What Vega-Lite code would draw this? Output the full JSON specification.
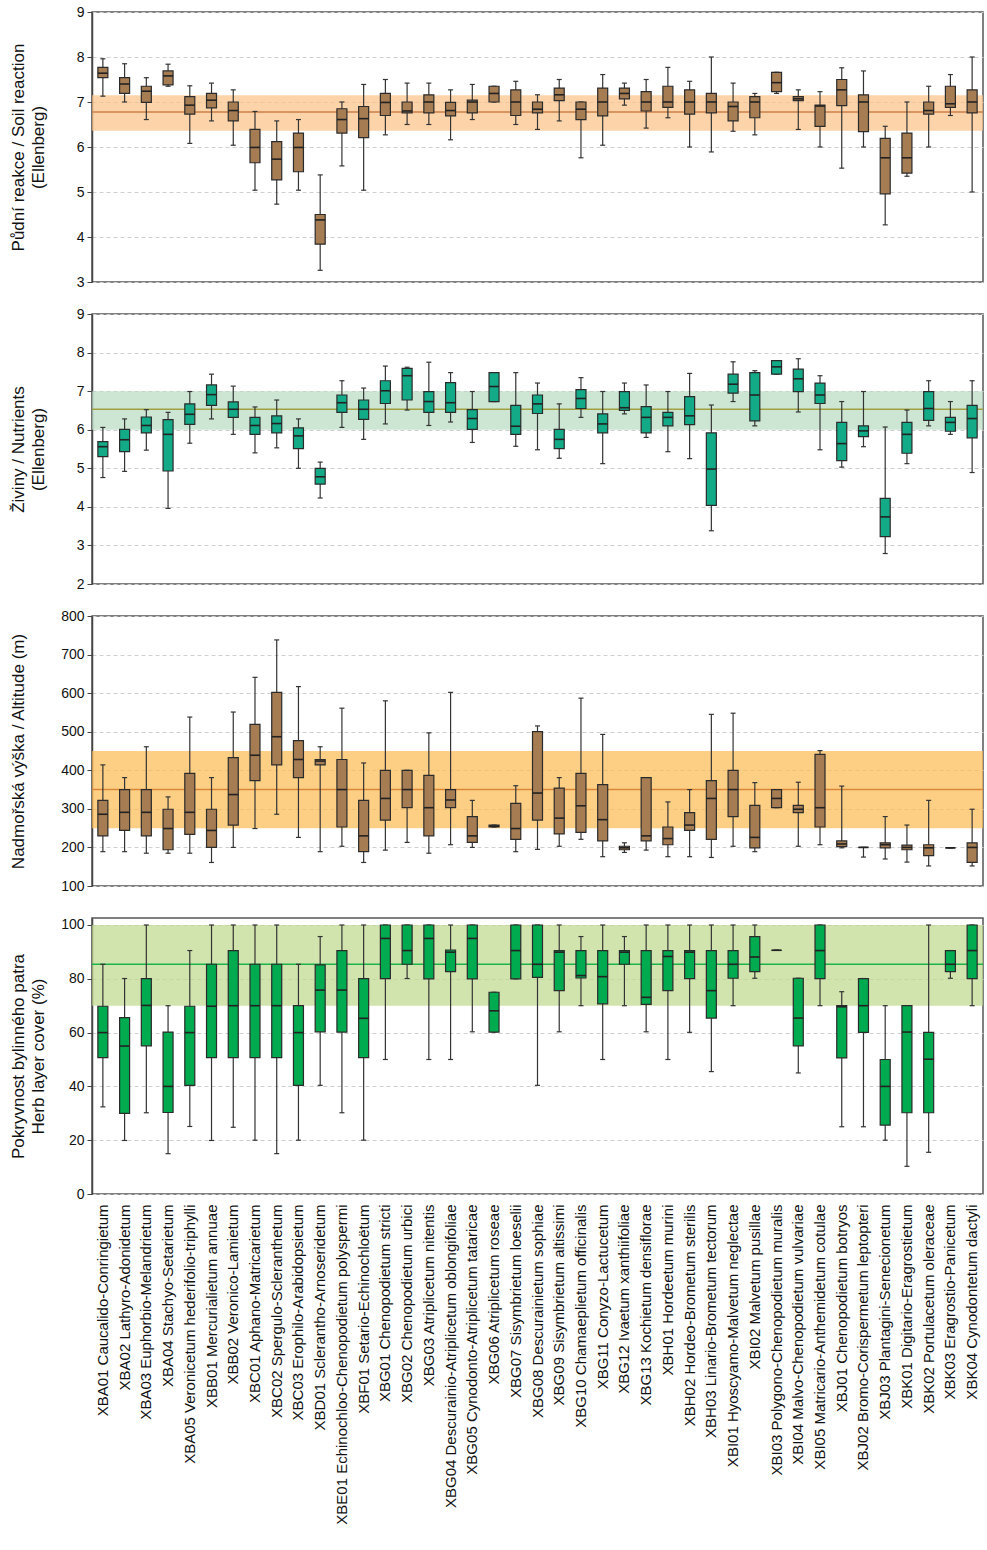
{
"$schema": "https://vega.github.io/schema/vega-lite/v6.json",
"padding": {"left": 8, "top": 4, "right": 4, "bottom": 2},
"background": "white",
"datasets": {
"p1": [
{"c":"XBA01 Caucalido-Conringietum","lo":7.13,"q1":7.54,"md":7.64,"q3":7.77,"hi":7.96},
{"c":"XBA02 Lathyro-Adonidetum","lo":7.00,"q1":7.19,"md":7.40,"q3":7.54,"hi":7.85},
{"c":"XBA03 Euphorbio-Melandrietum","lo":6.61,"q1":6.99,"md":7.24,"q3":7.35,"hi":7.54},
{"c":"XBA04 Stachyo-Setarietum","lo":7.35,"q1":7.38,"md":7.58,"q3":7.69,"hi":7.84},
{"c":"XBA05 Veronicetum hederifolio-triphylli","lo":6.08,"q1":6.73,"md":6.93,"q3":7.12,"hi":7.36},
{"c":"XBB01 Mercurialietum annuae","lo":6.58,"q1":6.87,"md":7.04,"q3":7.19,"hi":7.42},
{"c":"XBB02 Veronico-Lamietum","lo":6.04,"q1":6.58,"md":6.81,"q3":7.00,"hi":7.27},
{"c":"XBC01 Aphano-Matricarietum","lo":5.04,"q1":5.65,"md":5.99,"q3":6.39,"hi":6.79},
{"c":"XBC02 Spergulo-Scleranthetum","lo":4.73,"q1":5.27,"md":5.73,"q3":6.12,"hi":6.58},
{"c":"XBC03 Erophilo-Arabidopsietum","lo":5.04,"q1":5.45,"md":5.99,"q3":6.31,"hi":6.61},
{"c":"XBD01 Sclerantho-Arnoseridetum","lo":3.26,"q1":3.84,"md":4.38,"q3":4.50,"hi":5.38},
{"c":"XBE01 Echinochloo-Chenopodietum polyspermi","lo":5.58,"q1":6.31,"md":6.61,"q3":6.85,"hi":7.00},
{"c":"XBF01 Setario-Echinochloëtum","lo":5.04,"q1":6.21,"md":6.63,"q3":6.90,"hi":7.39},
{"c":"XBG01 Chenopodietum stricti","lo":6.27,"q1":6.70,"md":6.99,"q3":7.19,"hi":7.50},
{"c":"XBG02 Chenopodietum urbici","lo":6.50,"q1":6.76,"md":6.80,"q3":7.00,"hi":7.42},
{"c":"XBG03 Atriplicetum nitentis","lo":6.50,"q1":6.76,"md":7.00,"q3":7.16,"hi":7.42},
{"c":"XBG04 Descurainio-Atriplicetum oblongifoliae","lo":6.16,"q1":6.69,"md":6.81,"q3":6.99,"hi":7.27},
{"c":"XBG05 Cynodonto-Atriplicetum tataricae","lo":6.61,"q1":6.76,"md":7.00,"q3":7.04,"hi":7.39},
{"c":"XBG06 Atriplicetum roseae","lo":7.00,"q1":7.00,"md":7.19,"q3":7.35,"hi":7.35},
{"c":"XBG07 Sisymbrietum loeselii","lo":6.50,"q1":6.70,"md":7.00,"q3":7.27,"hi":7.46},
{"c":"XBG08 Descurainietum sophiae","lo":6.39,"q1":6.76,"md":6.84,"q3":7.00,"hi":7.16},
{"c":"XBG09 Sisymbrietum altissimi","lo":6.58,"q1":7.03,"md":7.16,"q3":7.31,"hi":7.50},
{"c":"XBG10 Chamaeplietum officinalis","lo":5.76,"q1":6.61,"md":6.84,"q3":7.00,"hi":7.00},
{"c":"XBG11 Conyzo-Lactucetum","lo":6.04,"q1":6.69,"md":7.00,"q3":7.31,"hi":7.61},
{"c":"XBG12 Ivaetum xanthiifoliae","lo":6.93,"q1":7.07,"md":7.19,"q3":7.31,"hi":7.42},
{"c":"XBG13 Kochietum densiflorae","lo":6.42,"q1":6.80,"md":7.00,"q3":7.23,"hi":7.50},
{"c":"XBH01 Hordeetum murini","lo":6.65,"q1":6.88,"md":7.00,"q3":7.35,"hi":7.77},
{"c":"XBH02 Hordeo-Brometum sterilis","lo":6.00,"q1":6.73,"md":7.00,"q3":7.27,"hi":7.46},
{"c":"XBH03 Linario-Brometum tectorum","lo":5.89,"q1":6.76,"md":7.00,"q3":7.19,"hi":8.00},
{"c":"XBI01 Hyoscyamo-Malvetum neglectae","lo":6.35,"q1":6.58,"md":6.90,"q3":7.00,"hi":7.42},
{"c":"XBI02 Malvetum pusillae","lo":6.27,"q1":6.65,"md":7.00,"q3":7.12,"hi":7.19},
{"c":"XBI03 Polygono-Chenopodietum muralis","lo":7.19,"q1":7.23,"md":7.43,"q3":7.66,"hi":7.66},
{"c":"XBI04 Malvo-Chenopodietum vulvariae","lo":6.39,"q1":7.03,"md":7.07,"q3":7.12,"hi":7.27},
{"c":"XBI05 Matricario-Anthemidetum cotulae","lo":6.00,"q1":6.46,"md":6.91,"q3":6.93,"hi":7.23},
{"c":"XBJ01 Chenopodietum botryos","lo":5.53,"q1":6.92,"md":7.27,"q3":7.50,"hi":7.76},
{"c":"XBJ02 Bromo-Corispermetum leptopteri","lo":6.00,"q1":6.34,"md":7.00,"q3":7.16,"hi":7.69},
{"c":"XBJ03 Plantagini-Senecionetum","lo":4.27,"q1":4.96,"md":5.76,"q3":6.19,"hi":6.46},
{"c":"XBK01 Digitario-Eragrostietum","lo":5.35,"q1":5.42,"md":5.76,"q3":6.31,"hi":7.00},
{"c":"XBK02 Portulacetum oleraceae","lo":6.00,"q1":6.73,"md":6.81,"q3":7.00,"hi":7.35},
{"c":"XBK03 Eragrostio-Panicetum","lo":6.70,"q1":6.88,"md":6.96,"q3":7.35,"hi":7.61},
{"c":"XBK04 Cynodontetum dactyli","lo":5.00,"q1":6.76,"md":7.00,"q3":7.27,"hi":8.00}
],
"p2": [
{"c":"XBA01 Caucalido-Conringietum","lo":4.76,"q1":5.30,"md":5.56,"q3":5.69,"hi":6.06},
{"c":"XBA02 Lathyro-Adonidetum","lo":4.92,"q1":5.43,"md":5.74,"q3":6.01,"hi":6.28},
{"c":"XBA03 Euphorbio-Melandrietum","lo":5.47,"q1":5.92,"md":6.11,"q3":6.33,"hi":6.52},
{"c":"XBA04 Stachyo-Setarietum","lo":3.96,"q1":4.93,"md":5.88,"q3":6.26,"hi":6.45},
{"c":"XBA05 Veronicetum hederifolio-triphylli","lo":5.65,"q1":6.14,"md":6.40,"q3":6.67,"hi":6.99},
{"c":"XBB01 Mercurialietum annuae","lo":6.28,"q1":6.63,"md":6.91,"q3":7.16,"hi":7.44},
{"c":"XBB02 Veronico-Lamietum","lo":5.88,"q1":6.32,"md":6.53,"q3":6.72,"hi":7.13},
{"c":"XBC01 Aphano-Matricarietum","lo":5.40,"q1":5.88,"md":6.11,"q3":6.32,"hi":6.59},
{"c":"XBC02 Spergulo-Scleranthetum","lo":5.53,"q1":5.92,"md":6.16,"q3":6.36,"hi":6.77},
{"c":"XBC03 Erophilo-Arabidopsietum","lo":5.00,"q1":5.51,"md":5.84,"q3":6.05,"hi":6.28},
{"c":"XBD01 Sclerantho-Arnoseridetum","lo":4.23,"q1":4.59,"md":4.78,"q3":5.00,"hi":5.16},
{"c":"XBE01 Echinochloo-Chenopodietum polyspermi","lo":6.06,"q1":6.45,"md":6.70,"q3":6.90,"hi":7.27},
{"c":"XBF01 Setario-Echinochloëtum","lo":5.75,"q1":6.27,"md":6.53,"q3":6.77,"hi":7.08},
{"c":"XBG01 Chenopodietum stricti","lo":6.15,"q1":6.68,"md":7.01,"q3":7.27,"hi":7.65},
{"c":"XBG02 Chenopodietum urbici","lo":6.51,"q1":6.77,"md":7.40,"q3":7.59,"hi":7.62},
{"c":"XBG03 Atriplicetum nitentis","lo":6.11,"q1":6.45,"md":6.73,"q3":6.99,"hi":7.75},
{"c":"XBG04 Descurainio-Atriplicetum oblongifoliae","lo":6.20,"q1":6.45,"md":6.70,"q3":7.22,"hi":7.48},
{"c":"XBG05 Cynodonto-Atriplicetum tataricae","lo":5.67,"q1":6.01,"md":6.29,"q3":6.52,"hi":6.99},
{"c":"XBG06 Atriplicetum roseae","lo":6.73,"q1":6.73,"md":7.12,"q3":7.48,"hi":7.48},
{"c":"XBG07 Sisymbrietum loeselii","lo":5.57,"q1":5.88,"md":6.09,"q3":6.63,"hi":7.48},
{"c":"XBG08 Descurainietum sophiae","lo":5.48,"q1":6.42,"md":6.67,"q3":6.90,"hi":7.21},
{"c":"XBG09 Sisymbrietum altissimi","lo":5.26,"q1":5.51,"md":5.75,"q3":6.01,"hi":6.67},
{"c":"XBG10 Chamaeplietum officinalis","lo":6.32,"q1":6.55,"md":6.81,"q3":7.04,"hi":7.35},
{"c":"XBG11 Conyzo-Lactucetum","lo":5.12,"q1":5.92,"md":6.15,"q3":6.41,"hi":6.99},
{"c":"XBG12 Ivaetum xanthiifoliae","lo":6.41,"q1":6.50,"md":6.57,"q3":6.99,"hi":7.21},
{"c":"XBG13 Kochietum densiflorae","lo":5.80,"q1":5.92,"md":6.32,"q3":6.60,"hi":7.16},
{"c":"XBH01 Hordeetum murini","lo":5.43,"q1":6.10,"md":6.32,"q3":6.45,"hi":6.99},
{"c":"XBH02 Hordeo-Brometum sterilis","lo":5.25,"q1":6.13,"md":6.36,"q3":6.86,"hi":7.46},
{"c":"XBH03 Linario-Brometum tectorum","lo":3.38,"q1":4.04,"md":4.98,"q3":5.92,"hi":6.64},
{"c":"XBI01 Hyoscyamo-Malvetum neglectae","lo":6.73,"q1":6.95,"md":7.18,"q3":7.44,"hi":7.76},
{"c":"XBI02 Malvetum pusillae","lo":6.10,"q1":6.23,"md":6.90,"q3":7.48,"hi":7.53},
{"c":"XBI03 Polygono-Chenopodietum muralis","lo":7.44,"q1":7.44,"md":7.63,"q3":7.79,"hi":7.79},
{"c":"XBI04 Malvo-Chenopodietum vulvariae","lo":6.46,"q1":6.99,"md":7.32,"q3":7.57,"hi":7.84},
{"c":"XBI05 Matricario-Anthemidetum cotulae","lo":5.48,"q1":6.68,"md":6.90,"q3":7.21,"hi":7.40},
{"c":"XBJ01 Chenopodietum botryos","lo":5.03,"q1":5.20,"md":5.64,"q3":6.19,"hi":6.73},
{"c":"XBJ02 Bromo-Corispermetum leptopteri","lo":5.56,"q1":5.82,"md":5.97,"q3":6.10,"hi":6.99},
{"c":"XBJ03 Plantagini-Senecionetum","lo":2.79,"q1":3.23,"md":3.74,"q3":4.22,"hi":6.07},
{"c":"XBK01 Digitario-Eragrostietum","lo":5.12,"q1":5.39,"md":5.88,"q3":6.19,"hi":6.51},
{"c":"XBK02 Portulacetum oleraceae","lo":6.10,"q1":6.24,"md":6.55,"q3":6.99,"hi":7.27},
{"c":"XBK03 Eragrostio-Panicetum","lo":5.88,"q1":5.96,"md":6.19,"q3":6.32,"hi":6.73},
{"c":"XBK04 Cynodontetum dactyli","lo":4.89,"q1":5.79,"md":6.29,"q3":6.63,"hi":7.27}
],
"p3": [
{"c":"XBA01 Caucalido-Conringietum","lo":189,"q1":230,"md":286,"q3":322,"hi":414},
{"c":"XBA02 Lathyro-Adonidetum","lo":189,"q1":244,"md":291,"q3":350,"hi":381},
{"c":"XBA03 Euphorbio-Melandrietum","lo":185,"q1":230,"md":291,"q3":350,"hi":461},
{"c":"XBA04 Stachyo-Setarietum","lo":185,"q1":194,"md":249,"q3":299,"hi":331},
{"c":"XBA05 Veronicetum hederifolio-triphylli","lo":185,"q1":234,"md":291,"q3":392,"hi":538},
{"c":"XBB01 Mercurialietum annuae","lo":161,"q1":200,"md":244,"q3":299,"hi":381},
{"c":"XBB02 Veronico-Lamietum","lo":200,"q1":258,"md":337,"q3":433,"hi":551},
{"c":"XBC01 Aphano-Matricarietum","lo":249,"q1":373,"md":439,"q3":519,"hi":641},
{"c":"XBC02 Spergulo-Scleranthetum","lo":286,"q1":414,"md":487,"q3":602,"hi":738},
{"c":"XBC03 Erophilo-Arabidopsietum","lo":226,"q1":381,"md":428,"q3":477,"hi":617},
{"c":"XBD01 Sclerantho-Arnoseridetum","lo":189,"q1":414,"md":424,"q3":428,"hi":461},
{"c":"XBE01 Echinochloo-Chenopodietum polyspermi","lo":203,"q1":253,"md":350,"q3":428,"hi":561},
{"c":"XBF01 Setario-Echinochloëtum","lo":161,"q1":189,"md":230,"q3":322,"hi":419},
{"c":"XBG01 Chenopodietum stricti","lo":193,"q1":271,"md":327,"q3":400,"hi":580},
{"c":"XBG02 Chenopodietum urbici","lo":213,"q1":303,"md":350,"q3":400,"hi":400},
{"c":"XBG03 Atriplicetum nitentis","lo":185,"q1":230,"md":303,"q3":387,"hi":497},
{"c":"XBG04 Descurainio-Atriplicetum oblongifoliae","lo":207,"q1":303,"md":323,"q3":350,"hi":602},
{"c":"XBG05 Cynodonto-Atriplicetum tataricae","lo":200,"q1":213,"md":230,"q3":280,"hi":322},
{"c":"XBG06 Atriplicetum roseae","lo":253,"q1":253,"md":255,"q3":258,"hi":258},
{"c":"XBG07 Sisymbrietum loeselii","lo":189,"q1":221,"md":249,"q3":314,"hi":360},
{"c":"XBG08 Descurainietum sophiae","lo":195,"q1":271,"md":341,"q3":500,"hi":515},
{"c":"XBG09 Sisymbrietum altissimi","lo":203,"q1":235,"md":276,"q3":354,"hi":381},
{"c":"XBG10 Chamaeplietum officinalis","lo":221,"q1":239,"md":308,"q3":392,"hi":587},
{"c":"XBG11 Conyzo-Lactucetum","lo":176,"q1":217,"md":272,"q3":363,"hi":493},
{"c":"XBG12 Ivaetum xanthiifoliae","lo":187,"q1":194,"md":199,"q3":203,"hi":212},
{"c":"XBG13 Kochietum densiflorae","lo":193,"q1":217,"md":230,"q3":381,"hi":381},
{"c":"XBH01 Hordeetum murini","lo":176,"q1":207,"md":223,"q3":253,"hi":318},
{"c":"XBH02 Hordeo-Brometum sterilis","lo":176,"q1":244,"md":258,"q3":290,"hi":350},
{"c":"XBH03 Linario-Brometum tectorum","lo":174,"q1":221,"md":327,"q3":373,"hi":545},
{"c":"XBI01 Hyoscyamo-Malvetum neglectae","lo":203,"q1":280,"md":350,"q3":400,"hi":548},
{"c":"XBI02 Malvetum pusillae","lo":189,"q1":199,"md":226,"q3":309,"hi":368},
{"c":"XBI03 Polygono-Chenopodietum muralis","lo":303,"q1":303,"md":327,"q3":350,"hi":350},
{"c":"XBI04 Malvo-Chenopodietum vulvariae","lo":203,"q1":290,"md":299,"q3":309,"hi":369},
{"c":"XBI05 Matricario-Anthemidetum cotulae","lo":207,"q1":253,"md":303,"q3":441,"hi":451},
{"c":"XBJ01 Chenopodietum botryos","lo":199,"q1":202,"md":209,"q3":217,"hi":359},
{"c":"XBJ02 Bromo-Corispermetum leptopteri","lo":175,"q1":200,"md":200,"q3":200,"hi":200},
{"c":"XBJ03 Plantagini-Senecionetum","lo":170,"q1":199,"md":207,"q3":212,"hi":280},
{"c":"XBK01 Digitario-Eragrostietum","lo":162,"q1":194,"md":200,"q3":206,"hi":258},
{"c":"XBK02 Portulacetum oleraceae","lo":152,"q1":179,"md":199,"q3":207,"hi":322},
{"c":"XBK03 Eragrostio-Panicetum","lo":199,"q1":199,"md":199,"q3":199,"hi":199},
{"c":"XBK04 Cynodontetum dactyli","lo":152,"q1":161,"md":200,"q3":212,"hi":299}
],
"p4": [
{"c":"XBA01 Caucalido-Conringietum","lo":32.4,"q1":50.7,"md":60,"q3":69.8,"hi":85.4},
{"c":"XBA02 Lathyro-Adonidetum","lo":19.9,"q1":30,"md":55,"q3":65.6,"hi":80.1},
{"c":"XBA03 Euphorbio-Melandrietum","lo":30.2,"q1":55.1,"md":70.1,"q3":80.1,"hi":100},
{"c":"XBA04 Stachyo-Setarietum","lo":15,"q1":30.3,"md":40,"q3":60.2,"hi":70},
{"c":"XBA05 Veronicetum hederifolio-triphylli","lo":25.1,"q1":40.4,"md":60,"q3":69.8,"hi":90.5},
{"c":"XBB01 Mercurialietum annuae","lo":19.9,"q1":50.7,"md":69.8,"q3":85.4,"hi":100},
{"c":"XBB02 Veronico-Lamietum","lo":24.8,"q1":50.7,"md":70,"q3":90.5,"hi":100},
{"c":"XBC01 Aphano-Matricarietum","lo":20,"q1":50.7,"md":70,"q3":85.4,"hi":100},
{"c":"XBC02 Spergulo-Scleranthetum","lo":15,"q1":50.7,"md":70,"q3":85.4,"hi":100},
{"c":"XBC03 Erophilo-Arabidopsietum","lo":20,"q1":40.4,"md":60,"q3":70,"hi":85.4},
{"c":"XBD01 Sclerantho-Arnoseridetum","lo":40.4,"q1":60.3,"md":75.8,"q3":85.2,"hi":95.7},
{"c":"XBE01 Echinochloo-Chenopodietum polyspermi","lo":30.2,"q1":60.2,"md":75.8,"q3":90.5,"hi":100},
{"c":"XBF01 Setario-Echinochloëtum","lo":20,"q1":50.7,"md":65.3,"q3":80.1,"hi":100},
{"c":"XBG01 Chenopodietum stricti","lo":50,"q1":80.1,"md":95,"q3":100,"hi":100},
{"c":"XBG02 Chenopodietum urbici","lo":80.1,"q1":85.4,"md":90.5,"q3":100,"hi":100},
{"c":"XBG03 Atriplicetum nitentis","lo":50,"q1":80,"md":95,"q3":100,"hi":100},
{"c":"XBG04 Descurainio-Atriplicetum oblongifoliae","lo":50,"q1":82.7,"md":89.9,"q3":90.7,"hi":100},
{"c":"XBG05 Cynodonto-Atriplicetum tataricae","lo":60.3,"q1":80,"md":95,"q3":100,"hi":100},
{"c":"XBG06 Atriplicetum roseae","lo":60.2,"q1":60.2,"md":68.1,"q3":75,"hi":75},
{"c":"XBG07 Sisymbrietum loeselii","lo":80,"q1":80,"md":90.5,"q3":100,"hi":100},
{"c":"XBG08 Descurainietum sophiae","lo":40.4,"q1":80.5,"md":85.4,"q3":100,"hi":100},
{"c":"XBG09 Sisymbrietum altissimi","lo":60.3,"q1":75.6,"md":89.9,"q3":90.5,"hi":100},
{"c":"XBG10 Chamaeplietum officinalis","lo":70,"q1":80.3,"md":81.2,"q3":90.5,"hi":95.7},
{"c":"XBG11 Conyzo-Lactucetum","lo":50,"q1":70.7,"md":80.8,"q3":90.5,"hi":100},
{"c":"XBG12 Ivaetum xanthiifoliae","lo":70,"q1":85.4,"md":89.9,"q3":90.5,"hi":95.7},
{"c":"XBG13 Kochietum densiflorae","lo":60.3,"q1":70.5,"md":73.1,"q3":90.5,"hi":100},
{"c":"XBH01 Hordeetum murini","lo":50,"q1":75.6,"md":88.3,"q3":90.5,"hi":100},
{"c":"XBH02 Hordeo-Brometum sterilis","lo":60.1,"q1":80.1,"md":89.9,"q3":90.5,"hi":100},
{"c":"XBH03 Linario-Brometum tectorum","lo":45.5,"q1":65.4,"md":75.6,"q3":90.5,"hi":100},
{"c":"XBI01 Hyoscyamo-Malvetum neglectae","lo":70,"q1":80.2,"md":85.4,"q3":90.5,"hi":100},
{"c":"XBI02 Malvetum pusillae","lo":80.2,"q1":82.7,"md":88.1,"q3":95.7,"hi":100},
{"c":"XBI03 Polygono-Chenopodietum muralis","lo":90.6,"q1":90.6,"md":90.6,"q3":90.6,"hi":90.6},
{"c":"XBI04 Malvo-Chenopodietum vulvariae","lo":45,"q1":55.1,"md":65.4,"q3":80.2,"hi":80.2},
{"c":"XBI05 Matricario-Anthemidetum cotulae","lo":70,"q1":80.1,"md":90.5,"q3":100,"hi":100},
{"c":"XBJ01 Chenopodietum botryos","lo":25,"q1":50.6,"md":69.6,"q3":70,"hi":75.2},
{"c":"XBJ02 Bromo-Corispermetum leptopteri","lo":25,"q1":60.1,"md":70,"q3":80.1,"hi":80.1},
{"c":"XBJ03 Plantagini-Senecionetum","lo":20,"q1":25.6,"md":40,"q3":50,"hi":70},
{"c":"XBK01 Digitario-Eragrostietum","lo":10.3,"q1":30.2,"md":60.2,"q3":70,"hi":70},
{"c":"XBK02 Portulacetum oleraceae","lo":15.5,"q1":30.2,"md":50.1,"q3":60.1,"hi":100},
{"c":"XBK03 Eragrostio-Panicetum","lo":80.2,"q1":82.7,"md":85.4,"q3":90.5,"hi":90.5},
{"c":"XBK04 Cynodontetum dactyli","lo":70,"q1":80.1,"md":90.5,"q3":100,"hi":100}
]
},
"vconcat": [
{"width": 891, "height": 270,
 "layer": [
  {"data": {"values": [{"a": 6.36, "b": 7.15}]}, "mark": {"type": "rect", "color": "#fcc286", "opacity": 0.7},
   "encoding": {"y": {"field": "a", "type": "quantitative", "scale": {"domain": [3, 9], "nice": false, "zero": false}, "axis": {"values": [3,4,5,6,7,8,9], "tickCount": 12, "format": "d", "title": ["Půdní reakce / Soil reaction", "(Ellenberg)"], "titleY": 135}}, "y2": {"field": "b"}}},
  {"data": {"values": [{"m": 6.78}]}, "mark": {"type": "rule", "color": "#cd7f4a", "strokeWidth": 1.5}, "encoding": {"y": {"field": "m", "type": "quantitative"}}},
  {"data": {"name": "p1"}, "encoding": {"x": {"field": "c", "type": "nominal", "axis": null}},
   "layer": [
    {"mark": {"type": "rule", "color": "#333", "strokeWidth": 1.2}, "encoding": {"y": {"field": "lo", "type": "quantitative"}, "y2": {"field": "hi"}}},
    {"mark": {"type": "tick", "size": 5, "thickness": 1.2, "color": "#333", "opacity": 1}, "encoding": {"y": {"field": "lo", "type": "quantitative"}}},
    {"mark": {"type": "tick", "size": 5, "thickness": 1.2, "color": "#333", "opacity": 1}, "encoding": {"y": {"field": "hi", "type": "quantitative"}}},
    {"mark": {"type": "bar", "size": 10, "color": "#a67c52", "stroke": "#2b2b2b", "strokeWidth": 1.2, "opacity": 1}, "encoding": {"y": {"field": "q1", "type": "quantitative"}, "y2": {"field": "q3"}}},
    {"mark": {"type": "tick", "size": 10, "thickness": 1.6, "color": "#222", "opacity": 1}, "encoding": {"y": {"field": "md", "type": "quantitative"}}}
   ]}
 ]},
{"width": 891, "height": 270,
 "layer": [
  {"data": {"values": [{"a": 6.0, "b": 7.0}]}, "mark": {"type": "rect", "color": "#b8dbc2", "opacity": 0.7},
   "encoding": {"y": {"field": "a", "type": "quantitative", "scale": {"domain": [2, 9], "nice": false, "zero": false}, "axis": {"values": [2,3,4,5,6,7,8,9], "tickCount": 12, "format": "d", "title": ["Živiny / Nutrients", "(Ellenberg)"], "titleY": 135}}, "y2": {"field": "b"}}},
  {"data": {"values": [{"m": 6.53}]}, "mark": {"type": "rule", "color": "#a0a040", "strokeWidth": 1.5}, "encoding": {"y": {"field": "m", "type": "quantitative"}}},
  {"data": {"name": "p2"}, "encoding": {"x": {"field": "c", "type": "nominal", "axis": null}},
   "layer": [
    {"mark": {"type": "rule", "color": "#333", "strokeWidth": 1.2}, "encoding": {"y": {"field": "lo", "type": "quantitative"}, "y2": {"field": "hi"}}},
    {"mark": {"type": "tick", "size": 5, "thickness": 1.2, "color": "#333", "opacity": 1}, "encoding": {"y": {"field": "lo", "type": "quantitative"}}},
    {"mark": {"type": "tick", "size": 5, "thickness": 1.2, "color": "#333", "opacity": 1}, "encoding": {"y": {"field": "hi", "type": "quantitative"}}},
    {"mark": {"type": "bar", "size": 10, "color": "#13ab87", "stroke": "#2b2b2b", "strokeWidth": 1.2, "opacity": 1}, "encoding": {"y": {"field": "q1", "type": "quantitative"}, "y2": {"field": "q3"}}},
    {"mark": {"type": "tick", "size": 10, "thickness": 1.6, "color": "#222", "opacity": 1}, "encoding": {"y": {"field": "md", "type": "quantitative"}}}
   ]}
 ]},
{"width": 891, "height": 270,
 "layer": [
  {"data": {"values": [{"a": 250, "b": 450}]}, "mark": {"type": "rect", "color": "#fcba51", "opacity": 0.7},
   "encoding": {"y": {"field": "a", "type": "quantitative", "scale": {"domain": [100, 800], "nice": false, "zero": false}, "axis": {"values": [100,200,300,400,500,600,700,800], "tickCount": 12, "format": "d", "title": "Nadmořská výška / Altitude (m)", "titleY": 135}}, "y2": {"field": "b"}}},
  {"data": {"values": [{"m": 350}]}, "mark": {"type": "rule", "color": "#d9863a", "strokeWidth": 1.5}, "encoding": {"y": {"field": "m", "type": "quantitative"}}},
  {"data": {"name": "p3"}, "encoding": {"x": {"field": "c", "type": "nominal", "axis": null}},
   "layer": [
    {"mark": {"type": "rule", "color": "#333", "strokeWidth": 1.2}, "encoding": {"y": {"field": "lo", "type": "quantitative"}, "y2": {"field": "hi"}}},
    {"mark": {"type": "tick", "size": 5, "thickness": 1.2, "color": "#333", "opacity": 1}, "encoding": {"y": {"field": "lo", "type": "quantitative"}}},
    {"mark": {"type": "tick", "size": 5, "thickness": 1.2, "color": "#333", "opacity": 1}, "encoding": {"y": {"field": "hi", "type": "quantitative"}}},
    {"mark": {"type": "bar", "size": 10, "color": "#a67c52", "stroke": "#2b2b2b", "strokeWidth": 1.2, "opacity": 1}, "encoding": {"y": {"field": "q1", "type": "quantitative"}, "y2": {"field": "q3"}}},
    {"mark": {"type": "tick", "size": 10, "thickness": 1.6, "color": "#222", "opacity": 1}, "encoding": {"y": {"field": "md", "type": "quantitative"}}}
   ]}
 ]},
{"width": 891, "height": 276,
 "layer": [
  {"data": {"values": [{"a": 70, "b": 100}]}, "mark": {"type": "rect", "color": "#bfd88b", "opacity": 0.7},
   "encoding": {"y": {"field": "a", "type": "quantitative", "scale": {"domain": [0, 102.6], "nice": false, "zero": false}, "axis": {"values": [0,20,40,60,80,100], "tickCount": 12, "format": "d", "title": ["Pokryvnost bylinného patra", "Herb layer cover (%)"], "titleY": 138}}, "y2": {"field": "b"}}},
  {"data": {"values": [{"m": 85.4}]}, "mark": {"type": "rule", "color": "#1db34b", "strokeWidth": 1.5}, "encoding": {"y": {"field": "m", "type": "quantitative"}}},
  {"data": {"name": "p4"}, "encoding": {"x": {"field": "c", "type": "nominal", "axis": {"labelAngle": -90, "labelFontSize": 15, "labelLimit": 600, "ticks": false, "domain": false, "title": null, "labelPadding": 10, "labelOverlap": false}}},
   "layer": [
    {"mark": {"type": "rule", "color": "#333", "strokeWidth": 1.2}, "encoding": {"y": {"field": "lo", "type": "quantitative"}, "y2": {"field": "hi"}}},
    {"mark": {"type": "tick", "size": 5, "thickness": 1.2, "color": "#333", "opacity": 1}, "encoding": {"y": {"field": "lo", "type": "quantitative"}}},
    {"mark": {"type": "tick", "size": 5, "thickness": 1.2, "color": "#333", "opacity": 1}, "encoding": {"y": {"field": "hi", "type": "quantitative"}}},
    {"mark": {"type": "bar", "size": 10, "color": "#00aa4f", "stroke": "#2b2b2b", "strokeWidth": 1.2, "opacity": 1}, "encoding": {"y": {"field": "q1", "type": "quantitative"}, "y2": {"field": "q3"}}},
    {"mark": {"type": "tick", "size": 10, "thickness": 1.6, "color": "#222", "opacity": 1}, "encoding": {"y": {"field": "md", "type": "quantitative"}}}
   ]}
 ]}
],
"spacing": 32,
"bounds": "flush",
"config": {
 "font": "Liberation Sans",
 "view": {"stroke": "#555", "strokeWidth": 1.5},
 "axis": {"labelFontSize": 14, "labelColor": "#111", "titleFontSize": 17, "titleFontWeight": "normal", "titleColor": "#111", "domainColor": "#444", "tickColor": "#444", "gridColor": "#cfcfcf", "gridDash": [4, 3]},
 "axisY": {"tickSize": 5, "labelPadding": 3, "labelOverlap": false, "titleX": -82, "titleBaseline": "top", "titleLineHeight": 20, "domainWidth": 1.5}
}
}
